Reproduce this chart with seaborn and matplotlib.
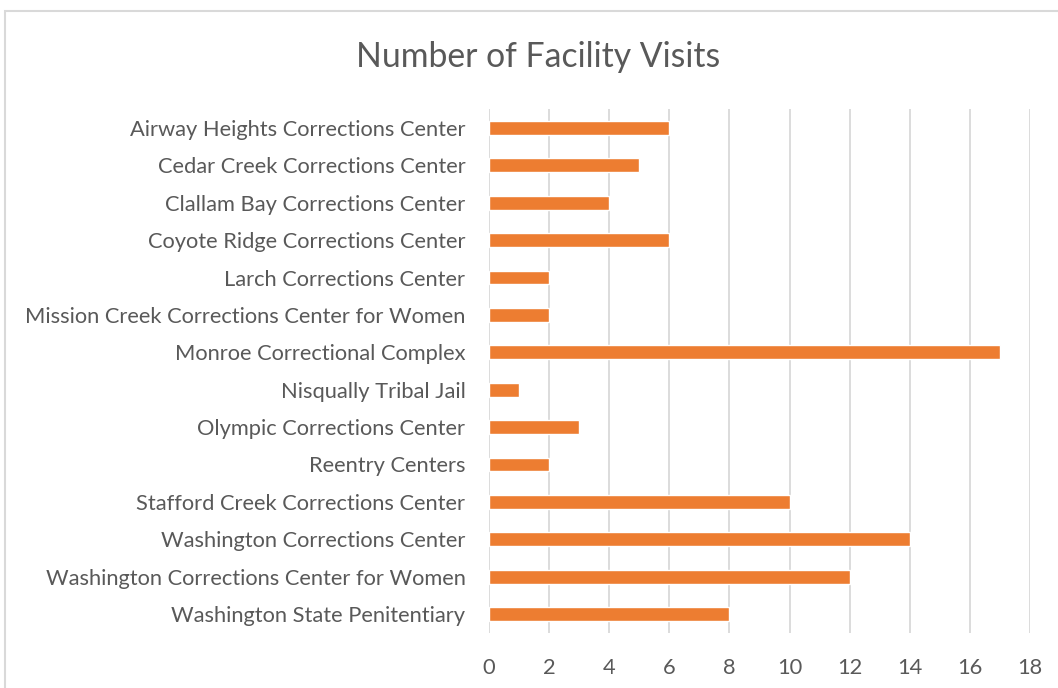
import pandas as pd
import matplotlib.pyplot as plt
import seaborn as sns
from matplotlib.patches import Rectangle

# data
facilities = ['Airway Heights Corrections Center', 'Cedar Creek Corrections Center',
              'Clallam Bay Corrections Center', 'Coyote Ridge Corrections Center',
              'Larch Corrections Center', 'Mission Creek Corrections Center for Women',
              'Monroe Correctional Complex', 'Nisqually Tribal Jail',
              'Olympic Corrections Center', 'Reentry Centers',
              'Stafford Creek Corrections Center', 'Washington Corrections Center',
              'Washington Corrections Center for Women', 'Washington State Penitentiary']
visits = [6, 5, 4, 6, 2, 2, 17, 1, 3, 2, 10, 14, 12, 8]
x_ticks = [0, 2, 4, 6, 8, 10, 12, 14, 16, 18]

df = pd.DataFrame({'Facility': facilities, 'Visits': visits})

sns.set_style("white")
plt.rcParams['font.family'] = ['Lato', 'DejaVu Sans']
text_col = '#595959'
grid_col = '#D9D9D9'

fig = plt.figure(figsize=(10.58, 6.88), dpi=100)
# chart frame
fig.patches.append(Rectangle((5 / 1058, -0.1), 1.2, 1 - 11 / 688 + 0.1,
                             transform=fig.transFigure, fill=False,
                             edgecolor=grid_col, linewidth=1.5))

ax = fig.add_axes([489 / 1058, 1 - 632.7 / 688, 541 / 1058, (632.7 - 109.3) / 688])
sns.barplot(x='Visits', y='Facility', data=df, color='#ED7D31', width=0.37,
            saturation=1, ax=ax, zorder=3)
ax.set_xlim(0, 18)
ax.set_xticks(x_ticks)
ax.set_xlabel('')
ax.set_ylabel('')
ax.xaxis.grid(True, color=grid_col, linewidth=1.3, zorder=0)
ax.set_axisbelow(True)
for s in ax.spines.values():
    s.set_visible(False)
ax.tick_params(axis='both', length=0, labelsize=15.75, labelcolor=text_col)
ax.tick_params(axis='y', pad=17)
ax.tick_params(axis='x', pad=18)

fig.text(538 / 1058, 1 - 57 / 688, 'Number of Facility Visits', ha='center', va='center',
         fontsize=24.3, color=text_col)

fig.savefig('out.png', dpi=100)
